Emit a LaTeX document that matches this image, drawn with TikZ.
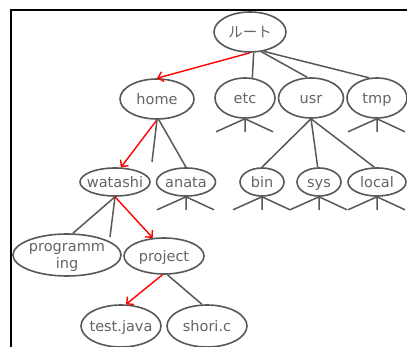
\documentclass[tikz,border=0pt]{standalone}
\usepackage{fontspec}
\setmainfont{DejaVu Sans}
\newfontfamily\jpfont{Noto Sans CJK JP}
\usetikzlibrary{shapes.geometric,arrows.meta}
\definecolor{lineGray}{RGB}{88,88,88}
\definecolor{textGray}{RGB}{100,100,100}
\newcommand{\dirText}[1]{\makebox[0pt]{\raisebox{-0.36em}[0pt][0pt]{#1}}}
\newcommand{\tikzStubs}[1]{
  \path (#1.south) ++(-29,13) coordinate (#1-l)
        (#1.south) ++(0,13)   coordinate (#1-m)
        (#1.south) ++(28,13)  coordinate (#1-r);
  \draw[branch] (#1.south) -- (#1-l) (#1.south) -- (#1-m) (#1.south) -- (#1-r);
}
\tikzset{
  folder/.style={draw=lineGray,line width=1.6pt,ellipse,inner sep=0pt,text=textGray,
    font=\fontsize{14.5}{17}\selectfont},
  branch/.style={draw=lineGray,line width=1.5pt},
  path/.style={draw=red,line width=1.4pt,-{Straight Barb[length=5pt,width=10pt]}}
}

\begin{document}
\begin{tikzpicture}[x=1pt,y=-1pt]
  \useasboundingbox (0,0) rectangle (407,347);

  % frame
  \draw[line width=2pt] (407,10) -- (11,10) -- (11,347);

  % level 0 and 1
  \node[folder,minimum width=72pt,minimum height=40pt] (root) at (250,32) {\dirText{\jpfont ルート}};
  \node[folder,minimum width=74pt,minimum height=40pt] (home) at (157,99) {\dirText{home}};
  \node[folder,minimum width=60pt,minimum height=40pt] (etc) at (245,98) {\dirText{etc}};
  \node[folder,minimum width=65pt,minimum height=40pt] (usr) at (311,98) {\dirText{usr}};
  \node[folder,minimum width=60pt,minimum height=40pt] (tmp) at (377,98) {\dirText{tmp}};

  \path[path] (root.south) -- (home.north);
  \draw[branch] (root.-80) -- (etc.70);
  \draw[branch] (root.-60) -- (usr.100);
  \draw[branch] (root.-55) -- (tmp.111);

  % level 2
  \node[folder,minimum width=70pt,minimum height=28pt] (watashi) at (115,182) {\dirText{watashi}};
  \node[folder,minimum width=59pt,minimum height=28pt] (anata) at (186,182) {\dirText{anata}};
  \node[folder,minimum width=44pt,minimum height=28pt] (bin) at (262,182) {\dirText{bin}};
  \node[folder,minimum width=44pt,minimum height=28pt] (sys) at (319,182) {\dirText{sys}};
  \node[folder,minimum width=58pt,minimum height=28pt] (local) at (377,182) {\dirText{local}};

  \coordinate (home-x) at (152,162);
  \path[path] (home.south) -- (watashi.68);
  \draw[branch] (home.south) -- (home-x);
  \draw[branch] (home.-85) -- (anata.north);
  \draw[branch] (usr.south) -- (bin.north);
  \draw[branch] (usr.south) -- (sys.95);
  \draw[branch] (usr.south) -- (local.100);

  \tikzStubs{etc}
  \tikzStubs{tmp}
  \tikzStubs{anata}
  \tikzStubs{bin}
  \tikzStubs{sys}
  \tikzStubs{local}

  % level 3
  \node[folder,minimum width=108pt,minimum height=42pt] (programming) at (67,255)
    {\dirText{\begin{tabular}{@{}c@{}}programm\\ing\end{tabular}}};
  \node[folder,minimum width=80pt,minimum height=36pt] (project) at (164,256) {\dirText{project}};

  \coordinate (watashi-x) at (110,237);
  \draw[branch] (watashi.south) -- (programming.75);
  \draw[branch] (watashi.south) -- (watashi-x);
  \path[path] (watashi.south) -- (project.122);

  % level 4
  \node[folder,minimum width=80pt,minimum height=42pt] (testjava) at (121,326) {\dirText{test.java}};
  \node[folder,minimum width=80pt,minimum height=42pt] (shori) at (207,326) {\dirText{shori.c}};

  \path[path] (project.-95) -- (testjava.77);
  \draw[branch] (project.-80) -- (shori.103);
\end{tikzpicture}
\end{document}
